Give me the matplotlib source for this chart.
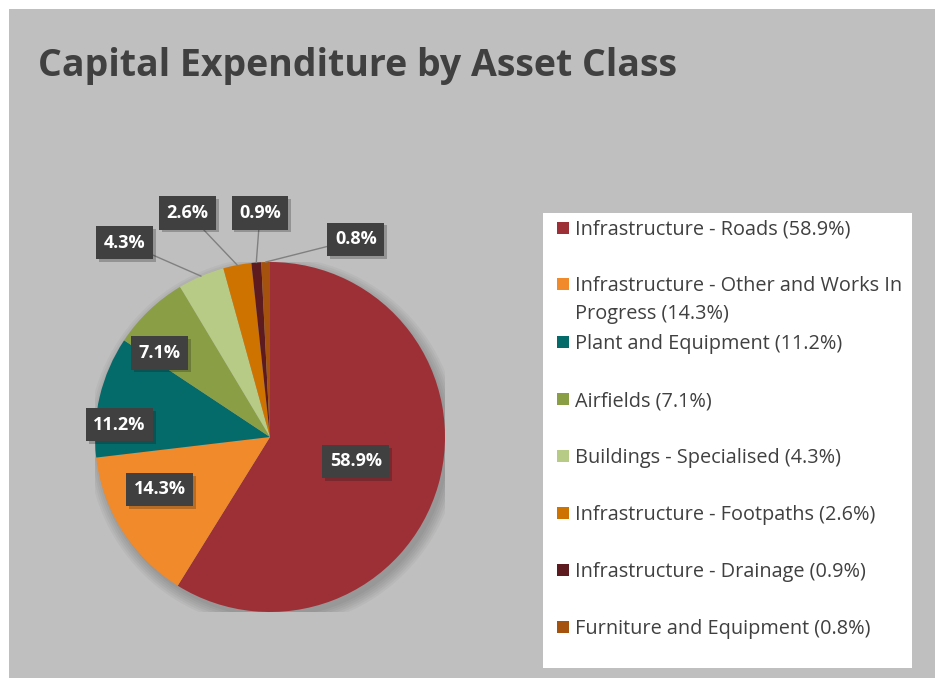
import textwrap
import numpy as np
import matplotlib
matplotlib.use("Agg")
import matplotlib.pyplot as plt
from matplotlib.patches import Rectangle, Circle
import matplotlib.patheffects as pe

title = "Capital Expenditure by Asset Class"
categories = [
    "Infrastructure - Roads",
    "Infrastructure - Other and Works In Progress",
    "Plant and Equipment",
    "Airfields",
    "Buildings - Specialised",
    "Infrastructure - Footpaths",
    "Infrastructure - Drainage",
    "Furniture and Equipment",
]
shares = [58.9, 14.3, 11.2, 7.1, 4.3, 2.6, 0.9, 0.8]
colors = ["#9d3036", "#f08a2a", "#056a6a", "#8a9f45",
          "#b8cb86", "#cf7300", "#5e1b1f", "#a5520f"]

# label placement in pie units (radius 1); the last four get leader lines
label_pos = [(0.49, -0.14), (-0.63, -0.30), (-0.86, 0.07), (-0.63, 0.48),
             (-0.83, 1.11), (-0.47, 1.28), (-0.057, 1.28), (0.49, 1.13)]
n_inside = 4

W, H = 935, 678
FONT = "Open Sans"
TXT = "#404040"

fig = plt.figure(figsize=(W / 100, H / 100), dpi=100, facecolor="white")

# background layer in pixel coords
bg = fig.add_axes([0, 0, 1, 1])
bg.set_xlim(0, W)
bg.set_ylim(H, 0)
bg.axis("off")
bg.add_patch(Rectangle((9, 9), W - 9, H - 9, facecolor="#bfbfbf", edgecolor="none"))
bg.text(38, 76, title, fontsize=27, fontweight="bold", color=TXT,
        family=FONT, va="baseline")

# legend box
bg.add_patch(Rectangle((543, 213), 369, 455, facecolor="white", edgecolor="none"))
legend_rows = [228, 284, 342, 399, 456, 513, 570, 627]
for i, (cat, s) in enumerate(zip(categories, shares)):
    row = legend_rows[i]
    bg.add_patch(Rectangle((557, row - 6), 12, 12, facecolor=colors[i], edgecolor="none"))
    lines = textwrap.wrap(f"{cat} ({s}%)", width=35)
    for j, line in enumerate(lines):
        bg.text(575, row + 7 + j * 28, line, fontsize=14.3, color=TXT,
                family=FONT, va="baseline")

# pie
cx, cy, r = 270, 437, 175
ax = fig.add_axes([(cx - r) / W, (H - cy - r) / H, 2 * r / W, 2 * r / H])
# soft drop shadow
for k in range(6):
    ax.add_patch(Circle((0.02, -0.03), 1.0 + 0.012 * k, facecolor="black",
                        alpha=0.035, edgecolor="none", zorder=0))
wedges, _ = ax.pie(shares, colors=colors, startangle=90, counterclock=False,
                   radius=1, wedgeprops=dict(linewidth=0))
ax.set_xlim(-1, 1)
ax.set_ylim(-1, 1)
ax.axis("off")

for i, (w, s) in enumerate(zip(wedges, shares)):
    mid = np.deg2rad((w.theta1 + w.theta2) / 2)
    box = dict(boxstyle="square,pad=0.42", fc="#404040", ec="none")
    if i < n_inside:
        t = ax.text(*label_pos[i], f"{s}%", ha="center", va="center",
                    fontsize=13, fontweight="bold", color="white", family=FONT,
                    bbox=box)
    else:
        t = ax.annotate(f"{s}%", xy=(np.cos(mid), np.sin(mid)), xytext=label_pos[i],
                        ha="center", va="center", fontsize=13, fontweight="bold",
                        color="white", family=FONT, bbox=box,
                        arrowprops=dict(arrowstyle="-", color="#808080", lw=1,
                                        shrinkA=0, shrinkB=0))
    t.get_bbox_patch().set_path_effects(
        [pe.SimplePatchShadow(offset=(2, -2), alpha=0.25), pe.Normal()])

fig.savefig("out.png", dpi=100, facecolor="white")
